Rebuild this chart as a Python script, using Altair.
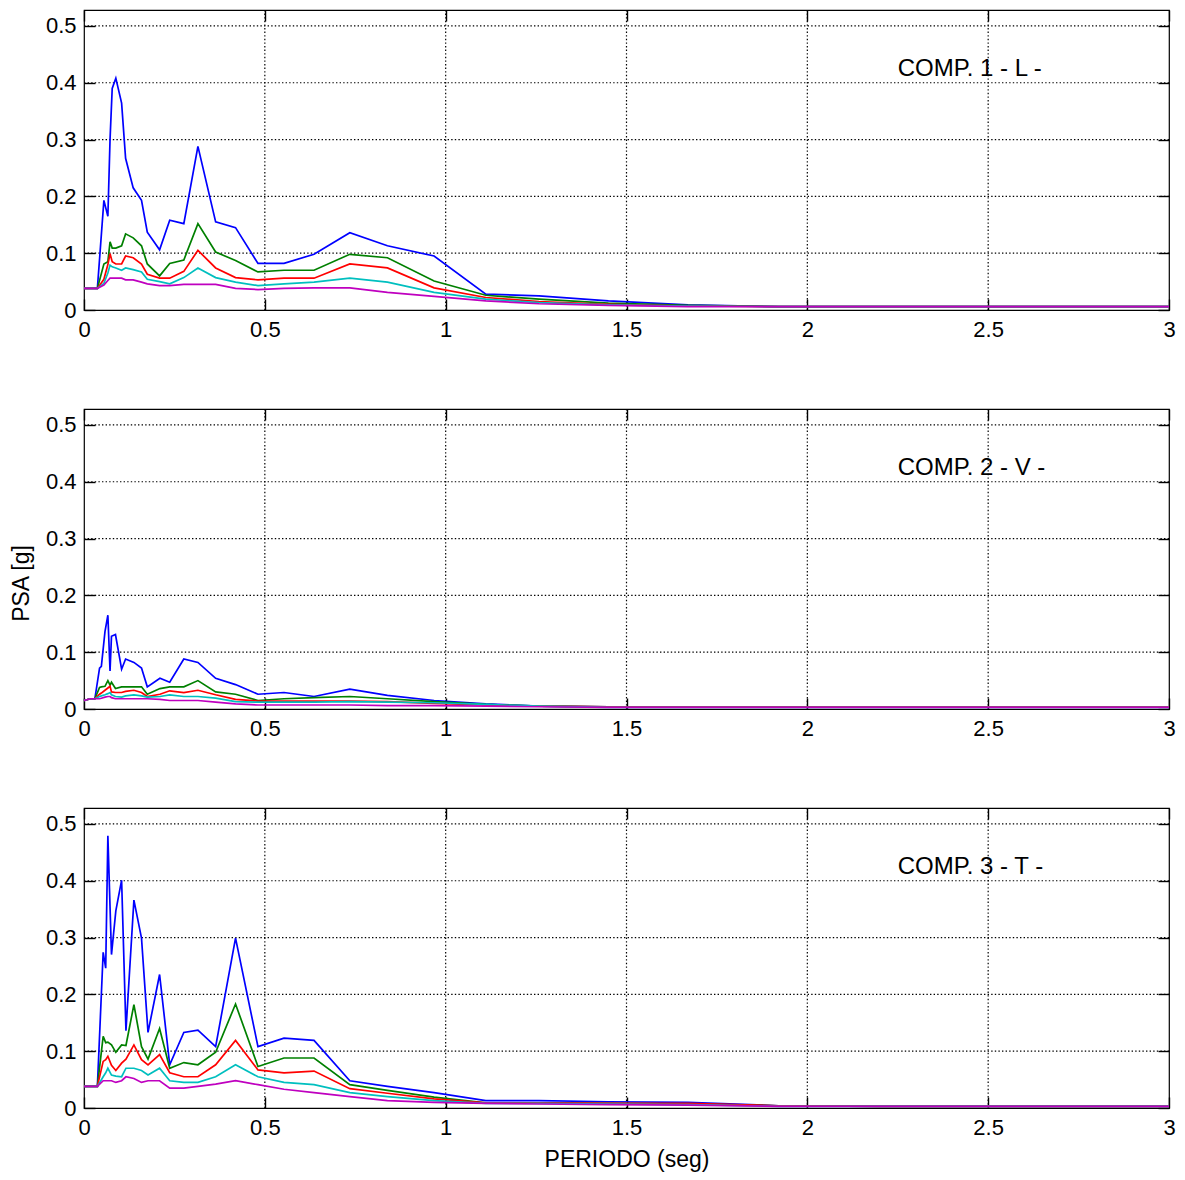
import altair as alt
import pandas as pd

FONT = "Liberation Sans"

SERIES = ["s1", "s2", "s3", "s4", "s5"]
COLORS = ["#0000ff", "#008000", "#ff0000", "#00bfbf", "#bf00bf"]

X_TICKS = [0, 0.5, 1, 1.5, 2, 2.5, 3]
Y_TICKS = [0, 0.1, 0.2, 0.3, 0.4, 0.5]
X_GRID = [0.5, 1, 1.5, 2, 2.5]
Y_GRID = [0.1, 0.2, 0.3, 0.4, 0.5]

# ---------------- Panel 1 : COMP. 1 - L -
P1 = [0, 0.037, 0.055, 0.066, 0.072, 0.078, 0.088, 0.104, 0.115, 0.136,
      0.159, 0.175, 0.209, 0.237, 0.276, 0.315, 0.364, 0.419, 0.481, 0.553,
      0.636, 0.735, 0.839, 0.968, 1.111, 1.258, 1.45, 1.67, 1.92, 2.2,
      2.5, 3.0]
P1_BLUE = [0.038, 0.038, 0.193, 0.165, 0.300, 0.390, 0.408, 0.364, 0.267, 0.215,
           0.193, 0.137, 0.106, 0.158, 0.152, 0.288, 0.155, 0.145, 0.082, 0.082,
           0.098, 0.136, 0.113, 0.095, 0.028, 0.025, 0.016, 0.009, 0.006, 0.006,
           0.006, 0.006]
P1_GREEN = [0.038, 0.038, 0.081, 0.085, 0.120, 0.109, 0.109, 0.113, 0.134, 0.127,
            0.113, 0.081, 0.060, 0.082, 0.088, 0.152, 0.102, 0.087, 0.067, 0.070,
            0.070, 0.098, 0.092, 0.051, 0.026, 0.019, 0.012, 0.008, 0.006, 0.006,
            0.006, 0.006]
P1_RED = [0.038, 0.038, 0.054, 0.080, 0.099, 0.085, 0.081, 0.081, 0.095, 0.092,
          0.081, 0.063, 0.056, 0.056, 0.068, 0.105, 0.074, 0.057, 0.053, 0.056,
          0.056, 0.081, 0.074, 0.039, 0.022, 0.015, 0.010, 0.007, 0.006, 0.006,
          0.006, 0.006]
P1_CYAN = [0.038, 0.038, 0.047, 0.065, 0.079, 0.076, 0.074, 0.070, 0.074, 0.071,
           0.067, 0.054, 0.050, 0.046, 0.057, 0.074, 0.057, 0.049, 0.043, 0.046,
           0.049, 0.056, 0.049, 0.031, 0.019, 0.013, 0.009, 0.007, 0.006, 0.006,
           0.006, 0.006]
P1_MAG = [0.038, 0.038, 0.044, 0.052, 0.056, 0.056, 0.056, 0.056, 0.053, 0.053,
          0.049, 0.046, 0.043, 0.043, 0.045, 0.045, 0.045, 0.038, 0.036, 0.038,
          0.039, 0.039, 0.031, 0.024, 0.016, 0.011, 0.008, 0.006, 0.006, 0.006,
          0.006, 0.006]

# ---------------- Panel 2 : COMP. 2 - V -
P2 = [0, 0.018, 0.030, 0.043, 0.048, 0.058, 0.066, 0.072, 0.076, 0.087,
      0.104, 0.115, 0.138, 0.159, 0.175, 0.210, 0.237, 0.276, 0.315, 0.364,
      0.419, 0.481, 0.553, 0.636, 0.735, 0.839, 0.968, 1.111, 1.258, 1.45,
      1.67, 1.92, 2.2, 2.5, 3.0]
P2_BLUE = [0.015, 0.018, 0.018, 0.072, 0.075, 0.136, 0.165, 0.067, 0.128, 0.131,
           0.070, 0.088, 0.082, 0.072, 0.039, 0.054, 0.047, 0.088, 0.082, 0.054,
           0.043, 0.026, 0.029, 0.022, 0.035, 0.024, 0.015, 0.009, 0.005, 0.004,
           0.004, 0.004, 0.004, 0.004, 0.004]
P2_GREEN = [0.015, 0.018, 0.018, 0.038, 0.039, 0.040, 0.050, 0.042, 0.047, 0.036,
            0.039, 0.039, 0.039, 0.039, 0.026, 0.036, 0.039, 0.039, 0.050, 0.030,
            0.026, 0.015, 0.018, 0.020, 0.022, 0.018, 0.013, 0.008, 0.005, 0.004,
            0.004, 0.004, 0.004, 0.004, 0.004]
P2_RED = [0.015, 0.018, 0.018, 0.026, 0.028, 0.033, 0.037, 0.040, 0.030, 0.029,
          0.029, 0.031, 0.033, 0.029, 0.022, 0.026, 0.032, 0.029, 0.033, 0.025,
          0.017, 0.014, 0.014, 0.014, 0.014, 0.013, 0.010, 0.007, 0.005, 0.004,
          0.004, 0.004, 0.004, 0.004, 0.004]
P2_CYAN = [0.015, 0.018, 0.018, 0.022, 0.023, 0.025, 0.027, 0.029, 0.025, 0.022,
           0.021, 0.023, 0.025, 0.023, 0.021, 0.022, 0.025, 0.022, 0.022, 0.019,
           0.013, 0.012, 0.012, 0.012, 0.013, 0.012, 0.011, 0.008, 0.005, 0.003,
           0.003, 0.003, 0.003, 0.003, 0.003]
P2_MAG = [0.015, 0.018, 0.018, 0.018, 0.019, 0.021, 0.022, 0.022, 0.020, 0.018,
          0.018, 0.018, 0.018, 0.018, 0.018, 0.017, 0.015, 0.015, 0.015, 0.012,
          0.009, 0.007, 0.007, 0.007, 0.007, 0.006, 0.006, 0.005, 0.004, 0.003,
          0.003, 0.003, 0.003, 0.003, 0.003]

# ---------------- Panel 3 : COMP. 3 - T -
P3 = [0, 0.037, 0.053, 0.060, 0.066, 0.076, 0.088, 0.104, 0.116, 0.138,
      0.159, 0.177, 0.209, 0.237, 0.276, 0.315, 0.364, 0.419, 0.481, 0.553,
      0.636, 0.735, 0.839, 0.968, 1.111, 1.258, 1.45, 1.67, 1.92, 2.2,
      2.5, 3.0]
P3_BLUE = [0.038, 0.038, 0.274, 0.246, 0.479, 0.270, 0.347, 0.401, 0.136, 0.366,
           0.299, 0.133, 0.235, 0.076, 0.133, 0.137, 0.108, 0.299, 0.108, 0.123,
           0.119, 0.048, 0.038, 0.027, 0.013, 0.013, 0.011, 0.010, 0.004, 0.003,
           0.003, 0.003]
P3_GREEN = [0.038, 0.038, 0.126, 0.115, 0.116, 0.111, 0.098, 0.111, 0.110, 0.182,
            0.108, 0.086, 0.140, 0.070, 0.080, 0.076, 0.098, 0.183, 0.073, 0.088,
            0.088, 0.041, 0.031, 0.019, 0.009, 0.009, 0.008, 0.007, 0.004, 0.003,
            0.003, 0.003]
P3_RED = [0.038, 0.038, 0.082, 0.085, 0.091, 0.075, 0.066, 0.079, 0.086, 0.111,
          0.085, 0.076, 0.094, 0.062, 0.055, 0.055, 0.076, 0.119, 0.067, 0.062,
          0.065, 0.034, 0.026, 0.016, 0.009, 0.009, 0.008, 0.008, 0.004, 0.003,
          0.003, 0.003]
P3_CYAN = [0.038, 0.038, 0.055, 0.062, 0.070, 0.058, 0.056, 0.055, 0.070, 0.070,
           0.066, 0.058, 0.070, 0.048, 0.045, 0.045, 0.055, 0.076, 0.055, 0.045,
           0.041, 0.027, 0.020, 0.013, 0.008, 0.008, 0.007, 0.006, 0.003, 0.003,
           0.003, 0.003]
P3_MAG = [0.038, 0.038, 0.048, 0.048, 0.048, 0.048, 0.045, 0.048, 0.055, 0.052,
          0.045, 0.048, 0.048, 0.035, 0.035, 0.038, 0.042, 0.048, 0.041, 0.033,
          0.027, 0.020, 0.013, 0.010, 0.008, 0.007, 0.006, 0.005, 0.003, 0.003,
          0.003, 0.003]

LABELS = ["COMP. 1 - L -", "COMP. 2 - V -", "COMP. 3 - T -"]
LABEL_X = 2.25
LABEL_Y = 0.425

Y_MAX = 0.528
W, H = 1085, 300
TICK = 11
LABEL_SIZE = 22
TITLE_SIZE = 23
TEXT_SIZE = 24


def long_df(periods, series_values):
    rows = []
    for s, vals in zip(SERIES, series_values):
        for t, v in zip(periods, vals):
            rows.append({"T": t, "PSA": v, "serie": s})
    return pd.DataFrame(rows)


xscale = alt.Scale(domain=[0, 3], nice=False, zero=False)
yscale = alt.Scale(domain=[0, Y_MAX], nice=False, zero=False)
cscale = alt.Scale(domain=SERIES, range=COLORS)


def panel(df, label, ytitle=None, xtitle=None):
    grid_style = dict(color="#000000", strokeWidth=1.2, strokeDash=[1.4, 2.2])
    vgrid = alt.Chart(pd.DataFrame({"g": X_GRID})).mark_rule(**grid_style).encode(
        x=alt.X("g:Q", scale=xscale, axis=None))
    hgrid = alt.Chart(pd.DataFrame({"g": Y_GRID})).mark_rule(**grid_style).encode(
        y=alt.Y("g:Q", scale=yscale, axis=None))

    xaxis_kw = dict(values=X_TICKS, format="~g", orient="bottom", offset=-TICK,
                    tickSize=TICK, domain=False, grid=False, labelPadding=9,
                    labelFontSize=LABEL_SIZE, labelFont=FONT, labelColor="#000000",
                    tickColor="#000000", tickWidth=1.4, labelFlush=False,
                    titleFont=FONT, titleFontSize=TITLE_SIZE, titleFontWeight="normal",
                    titleColor="#000000", titlePadding=10)
    xaxis_kw["title"] = xtitle if xtitle else None
    yaxis_kw = dict(values=Y_TICKS, format="~g", orient="left", offset=-TICK,
                    tickSize=TICK, domain=False, grid=False, labelPadding=8,
                    labelFontSize=LABEL_SIZE, labelFont=FONT, labelColor="#000000",
                    tickColor="#000000", tickWidth=1.4, labelFlush=False,
                    titleFont=FONT, titleFontSize=TITLE_SIZE, titleFontWeight="normal",
                    titleColor="#000000", titlePadding=12)
    if ytitle:
        yaxis_kw["title"] = ytitle
        yaxis_kw["titleY"] = 174
    else:
        yaxis_kw["title"] = None

    lines = alt.Chart(df).mark_line(strokeWidth=1.7).encode(
        x=alt.X("T:Q", scale=xscale, axis=alt.Axis(**xaxis_kw)),
        y=alt.Y("PSA:Q", scale=yscale, axis=alt.Axis(**yaxis_kw)),
        color=alt.Color("serie:N", scale=cscale, legend=None),
        order=alt.Order("T:Q"),
    )

    ghost = alt.Chart(df).mark_point(opacity=0).encode(
        x=alt.X("T:Q", scale=xscale, axis=alt.Axis(
            values=X_TICKS, orient="top", offset=-TICK, tickSize=TICK, domain=False,
            grid=False, labels=False, title=None, tickColor="#000000", tickWidth=1.4)),
        y=alt.Y("PSA:Q", scale=yscale, axis=alt.Axis(
            values=Y_TICKS, orient="right", offset=-TICK, tickSize=TICK, domain=False,
            grid=False, labels=False, title=None, tickColor="#000000", tickWidth=1.4)),
    )

    text = alt.Chart(pd.DataFrame({"x": [LABEL_X], "y": [LABEL_Y], "label": [label]})).mark_text(
        align="left", baseline="middle", font=FONT, fontSize=TEXT_SIZE, color="#000000"
    ).encode(
        x=alt.X("x:Q", scale=xscale, axis=None),
        y=alt.Y("y:Q", scale=yscale, axis=None),
        text="label:N",
    )

    return alt.layer(vgrid, hgrid, lines, ghost, text).resolve_axis(
        x="independent", y="independent"
    ).properties(width=W, height=H)


df1 = long_df(P1, [P1_BLUE, P1_GREEN, P1_RED, P1_CYAN, P1_MAG])
df2 = long_df(P2, [P2_BLUE, P2_GREEN, P2_RED, P2_CYAN, P2_MAG])
df3 = long_df(P3, [P3_BLUE, P3_GREEN, P3_RED, P3_CYAN, P3_MAG])

chart = alt.vconcat(
    panel(df1, LABELS[0]),
    panel(df2, LABELS[1], ytitle="PSA [g]"),
    panel(df3, LABELS[2], xtitle="PERIODO (seg)"),
    spacing=99, bounds="flush",
    padding={"left": 1, "top": 0, "right": 0, "bottom": 0},
    background="#ffffff",
).configure_view(
    stroke="#000000", strokeWidth=1.2
)

chart.save("out.html", embed_options={"renderer": "svg", "actions": False})
